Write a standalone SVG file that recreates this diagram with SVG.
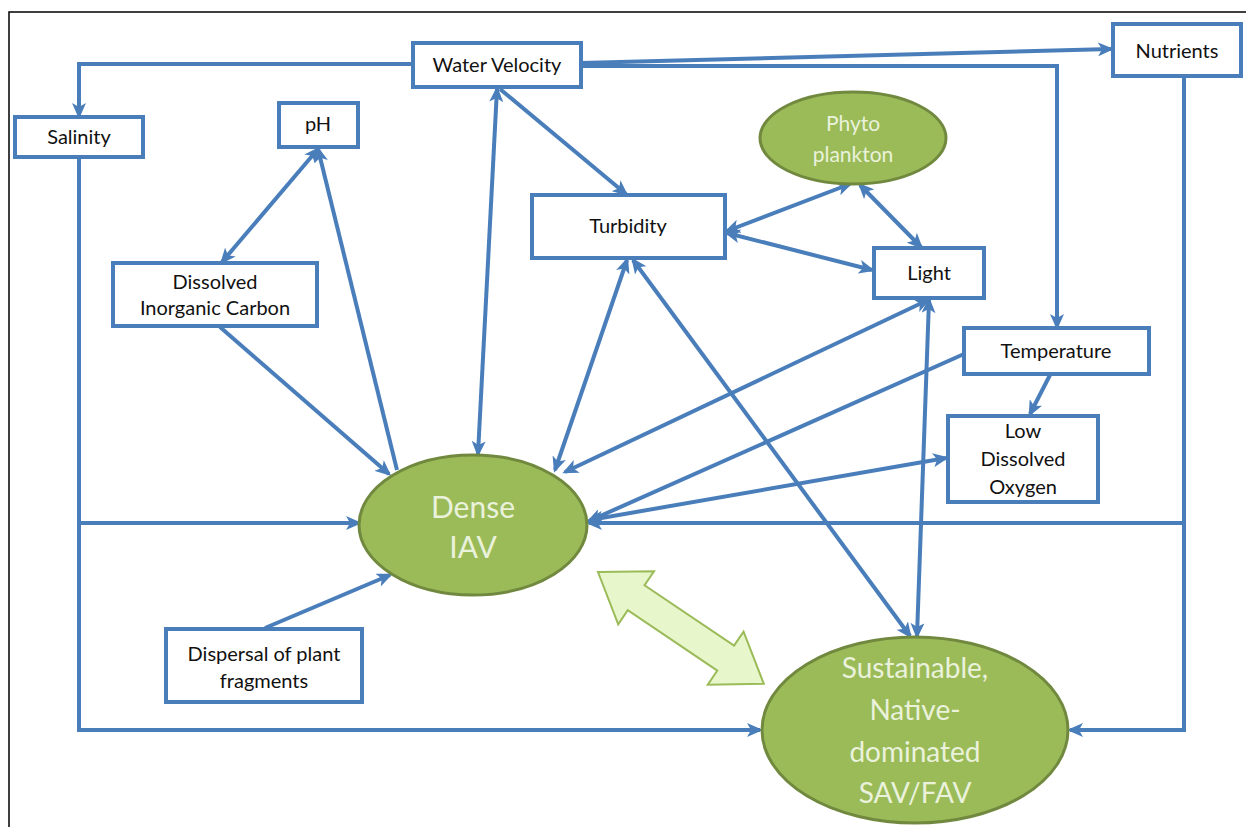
<svg xmlns="http://www.w3.org/2000/svg" width="1246" height="827" viewBox="0 0 1246 827">
<style>
.box{fill:#fff;stroke:#4a7ebb;stroke-width:4}
.ell{fill:#9bbb59;stroke:#71893f;stroke-width:3}
.t{font-family:Lato,"Liberation Sans",sans-serif;font-size:20px;fill:#111;text-anchor:middle}
.te{font-family:Lato,"Liberation Sans",sans-serif;fill:#eaf2dc;text-anchor:middle}
.c{fill:none;stroke:#4a7ebb;stroke-width:4}
.e{marker-end:url(#ah)}
.b{marker-start:url(#ah);marker-end:url(#ah)}
</style>
<defs>
<marker id="ah" viewBox="0 0 16 14" refX="13" refY="7" markerWidth="16" markerHeight="14" orient="auto-start-reverse" markerUnits="userSpaceOnUse">
<path d="M0,0 L16,7 L0,14 L4,7 z" fill="#4a7ebb"/>
</marker>
</defs>
<rect width="1246" height="827" fill="#fff"/>
<path d="M9,827 V12 H1246" fill="none" stroke="#000" stroke-width="1.5"/>

<g id="connectors">
<polyline class="c e" points="413,64 79,64 79,116"/>
<line class="c e" x1="581" y1="63" x2="1111" y2="49"/>
<polyline class="c e" points="581,66 1057,66 1057,327"/>
<line class="c b" x1="497" y1="89" x2="478" y2="454"/>
<line class="c e" x1="500" y1="89" x2="626" y2="194"/>
<line class="c b" x1="318" y1="149" x2="222" y2="262"/>
<line class="c e" x1="397" y1="470" x2="318" y2="149"/>
<line class="c e" x1="220" y1="327" x2="389" y2="474"/>
<line class="c b" x1="627" y1="260" x2="555" y2="470"/>
<line class="c b" x1="633" y1="260" x2="910" y2="636"/>
<line class="c b" x1="727" y1="231" x2="850" y2="184"/>
<line class="c b" x1="727" y1="233" x2="872" y2="270"/>
<line class="c b" x1="860" y1="185" x2="921" y2="247"/>
<line class="c b" x1="928" y1="300" x2="565" y2="472"/>
<line class="c b" x1="929" y1="300" x2="917" y2="636"/>
<line class="c e" x1="964" y1="354" x2="589" y2="521"/>
<line class="c e" x1="1050" y1="375" x2="1030" y2="414"/>
<line class="c b" x1="590" y1="520" x2="946" y2="458"/>
<polyline class="c e" points="1184,77 1184,730 1070,730"/>
<line class="c e" x1="1184" y1="523" x2="589" y2="523"/>
<polyline class="c e" points="79,158 79,730 760,730"/>
<line class="c e" x1="79" y1="523" x2="359" y2="523"/>
<line class="c e" x1="265" y1="628" x2="390" y2="575"/>
</g>

<g id="block-arrow" transform="translate(598,572) rotate(34)">
<polygon points="0,0 46,-32 46,-15 154,-15 154,-32 200,0 154,32 154,15 46,15 46,32" fill="#e8f6cc" stroke="#9bbb59" stroke-width="2"/>
</g>

<g id="water-velocity"><rect class="box" x="413" y="43" width="168" height="44"/><text class="t" x="497" y="72">Water Velocity</text></g>
<g id="nutrients"><rect class="box" x="1113" y="24" width="128" height="52"/><text class="t" x="1177" y="58">Nutrients</text></g>
<g id="salinity"><rect class="box" x="15" y="117" width="128" height="40"/><text class="t" x="79" y="144">Salinity</text></g>
<g id="ph"><rect class="box" x="279" y="103" width="79" height="44"/><text class="t" x="318" y="131">pH</text></g>
<g id="dic"><rect class="box" x="113" y="263" width="204" height="63"/><text class="t" x="215" y="289">Dissolved</text><text class="t" x="215" y="315">Inorganic Carbon</text></g>
<g id="turbidity"><rect class="box" x="532" y="195" width="193" height="63"/><text class="t" x="628" y="233">Turbidity</text></g>
<g id="phytoplankton"><ellipse class="ell" cx="853" cy="138" rx="93" ry="46"/><text class="te" x="853" y="131" font-size="21">Phyto</text><text class="te" x="853" y="162" font-size="21">plankton</text></g>
<g id="light"><rect class="box" x="874" y="248" width="110" height="50"/><text class="t" x="929" y="280">Light</text></g>
<g id="temperature"><rect class="box" x="964" y="328" width="185" height="46"/><text class="t" x="1056" y="358">Temperature</text></g>
<g id="low-do"><rect class="box" x="948" y="416" width="150" height="86"/><text class="t" x="1023" y="438">Low</text><text class="t" x="1023" y="466">Dissolved</text><text class="t" x="1023" y="494">Oxygen</text></g>
<g id="dense-iav"><ellipse class="ell" cx="473" cy="525" rx="114" ry="70"/><text class="te" x="473" y="518" font-size="30">Dense</text><text class="te" x="473" y="558" font-size="30">IAV</text></g>
<g id="dispersal"><rect class="box" x="166" y="629" width="196" height="73"/><text class="t" x="264" y="661">Dispersal of plant</text><text class="t" x="264" y="688">fragments</text></g>
<g id="sav"><ellipse class="ell" cx="915" cy="730" rx="153" ry="93"/><text class="te" x="915" y="678" font-size="28">Sustainable,</text><text class="te" x="915" y="720" font-size="28">Native-</text><text class="te" x="915" y="762" font-size="28">dominated</text><text class="te" x="915" y="803" font-size="28">SAV/FAV</text></g>
</svg>
